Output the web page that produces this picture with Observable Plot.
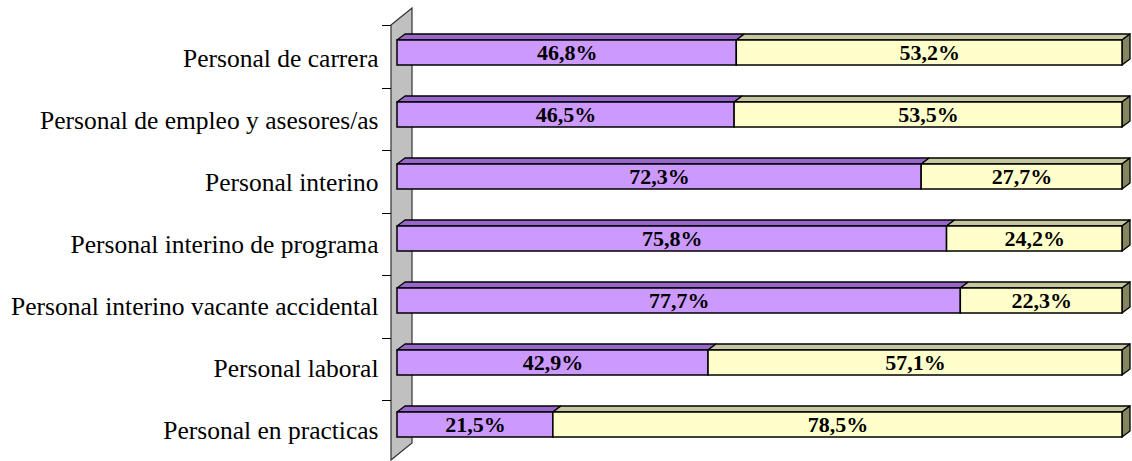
<!DOCTYPE html>
<html><head><meta charset="utf-8">
<script src="https://cdn.jsdelivr.net/npm/d3@7"></script>
<script src="https://cdn.jsdelivr.net/npm/@observablehq/plot@0.6"></script>
<style>body{margin:0;background:#fff;} svg{display:block;}</style>
</head><body><div id="chart"></div>
<script>
const categories = [
  "Personal de carrera",
  "Personal de empleo y asesores/as",
  "Personal interino",
  "Personal interino de programa",
  "Personal interino vacante accidental",
  "Personal laboral",
  "Personal en practicas"
];
const seriesNames = ["Mujeres", "Hombres"];
const valuesA = [46.8, 46.5, 72.3, 75.8, 77.7, 42.9, 21.5];
const valuesB = [53.2, 53.5, 27.7, 24.2, 22.3, 57.1, 78.5];
const frontColors = ["#CC99FF", "#FFFFCC"];
const topColors = ["#9966CC", "#C6C6A0"];
const sideColor = "#858560";
const wallColor = "#C0C0C0";
const FONT = "'Liberation Serif', 'Times New Roman', serif";
const DEPTH = [8, -6];          // bar depth in px
const WALL_FRONT = [-6, 5];     // wall front plane offset from bar plane
const WALL_BACK = [15, -12];    // wall back plane offset from bar plane

const rows = categories.flatMap((cat, i) => {
  const a = valuesA[i], b = valuesB[i];
  return [
    {cat, series: seriesNames[0], value: a, x1: 0, x2: a, k: 0},
    {cat, series: seriesNames[1], value: b, x1: a, x2: a + b, k: 1}
  ];
});
const fmt = v => v.toFixed(1).replace(".", ",") + "%";

function wallMark(index, scales, values, dims) {
  const x = scales.x;
  const x0 = x(0);
  const top = dims.marginTop, bot = dims.height - dims.marginBottom;
  const n = categories.length;
  const step = (bot - top) / n;
  const g = d3.create("svg:g");
  const fx = x0 + WALL_FRONT[0], bx = x0 + WALL_BACK[0];
  const pts = [
    [fx, top + WALL_FRONT[1]], [bx, top + WALL_BACK[1]],
    [bx, bot + WALL_BACK[1] - 3], [fx, bot + WALL_FRONT[1] - 3]
  ];
  g.append("path").attr("d", "M" + pts.join("L") + "Z")
    .attr("fill", wallColor).attr("stroke", "#333").attr("stroke-width", 1.2);
  for (let i = 0; i <= n; i++) {
    const yy = Math.round(top + i * step + WALL_FRONT[1]) + 0.5;
    g.append("line").attr("x1", fx - 9).attr("x2", fx).attr("y1", yy).attr("y2", yy)
      .attr("stroke", "#000").attr("stroke-width", 1);
  }
  return g.node();
}

function facesMark(index, scales, values, dims) {
  const {x, y} = scales;
  const bw = y.bandwidth();
  const [dx, dy] = DEPTH;
  const g = d3.create("svg:g").attr("stroke", "#000").attr("stroke-width", 1.3).attr("stroke-linejoin", "round");
  for (const r of rows) {
    const xa = x(r.x1), xb = x(r.x2), yt = y(r.cat), yb = yt + bw;
    const topPts = [[xa, yt], [xa + dx, yt + dy], [xb + dx, yt + dy], [xb, yt]];
    g.append("path").attr("d", "M" + topPts.join("L") + "Z").attr("fill", topColors[r.k]);
    if (r.k === 1) {
      const sidePts = [[xb, yt], [xb + dx, yt + dy], [xb + dx, yb + dy], [xb, yb]];
      g.append("path").attr("d", "M" + sidePts.join("L") + "Z").attr("fill", sideColor);
    }
  }
  return g.node();
}

const chart = Plot.plot({
  width: 1132,
  height: 461,
  marginLeft: 397,
  marginRight: 10,
  marginTop: 20,
  marginBottom: 3,
  style: {fontFamily: FONT, background: "#fff"},
  x: {domain: [0, 100], axis: null},
  y: {domain: categories, paddingInner: 0.59, paddingOuter: 0.295, axis: null},
  color: {domain: seriesNames, range: frontColors},
  marks: [
    wallMark,
    facesMark,
    Plot.barX(rows, {x1: "x1", x2: "x2", y: "cat", fill: "series", stroke: "#000", strokeWidth: 1.5}),
    Plot.text(rows, {x: d => (d.x1 + d.x2) / 2, y: "cat", text: d => fmt(d.value),
      fontFamily: FONT, fontWeight: "bold", fontSize: 22, fill: "#000"}),
    Plot.text(categories, {x: () => 0, y: d => d, text: d => d, textAnchor: "end",
      fontFamily: FONT, dx: -19, dy: 6, fontSize: 25.5, fill: "#000"})
  ]
});
document.getElementById("chart").appendChild(chart);
</script>
</body></html>
